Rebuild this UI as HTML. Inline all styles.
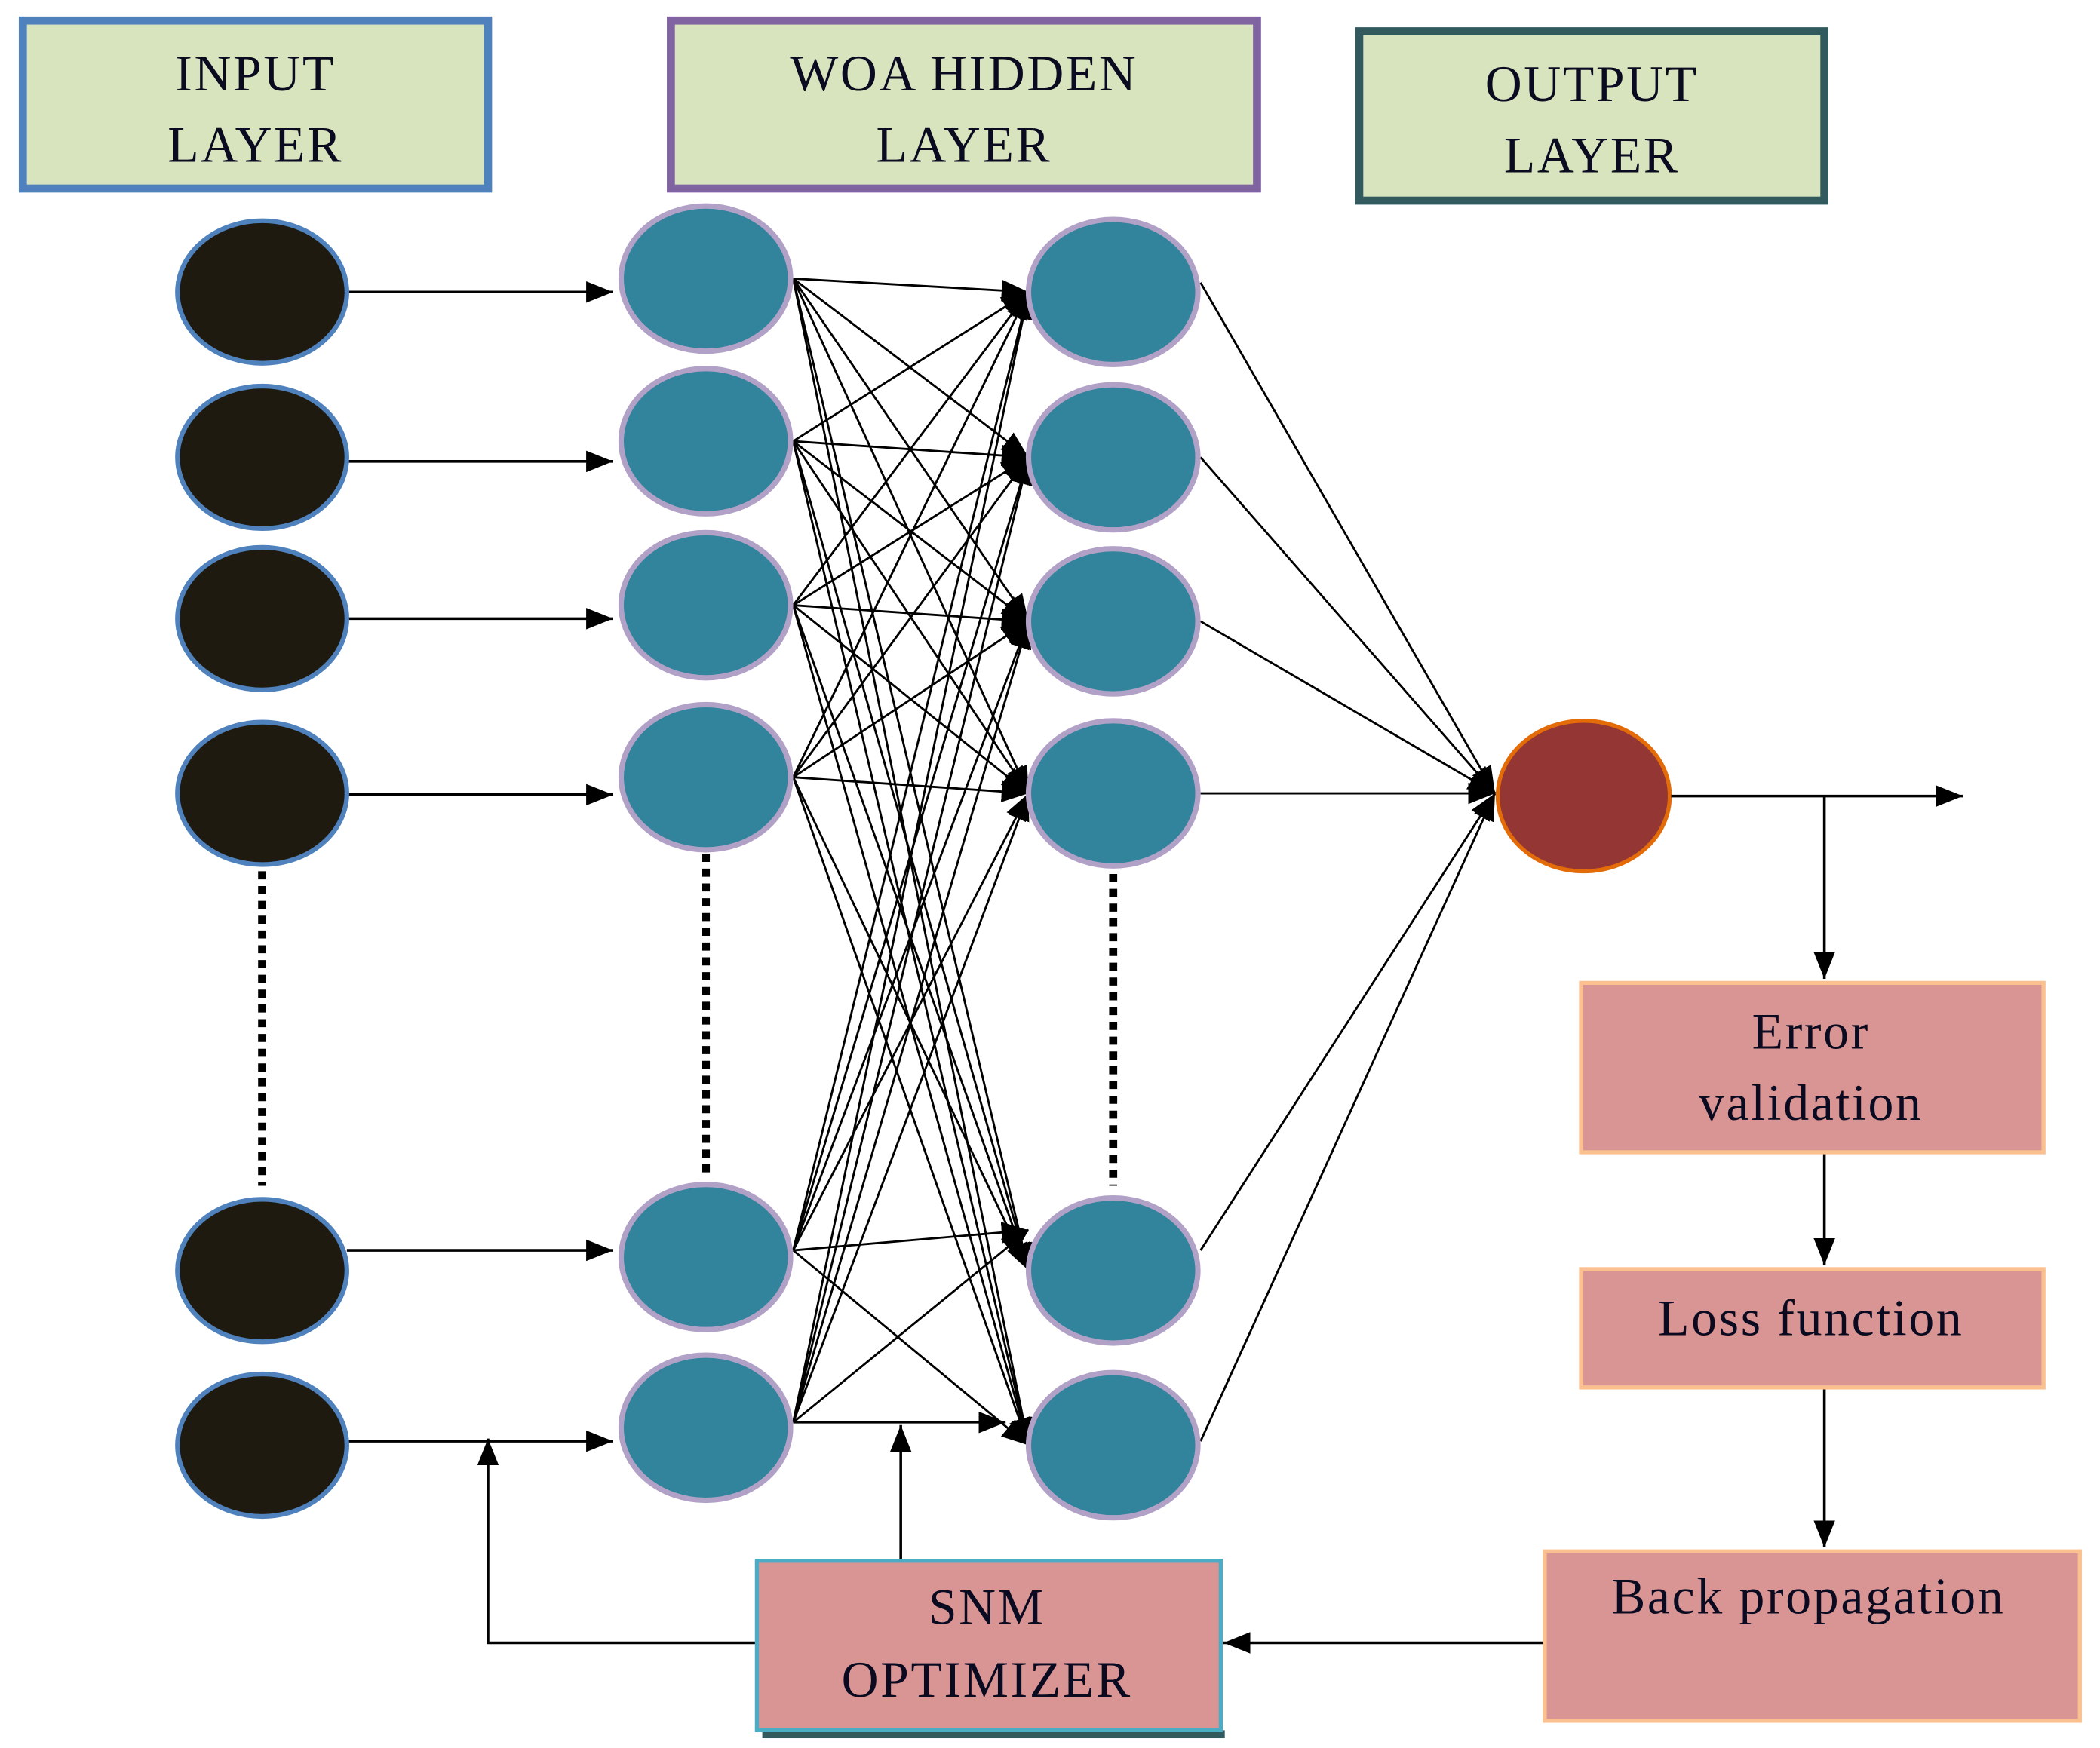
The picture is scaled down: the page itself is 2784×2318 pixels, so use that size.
<!DOCTYPE html>
<html><head><meta charset="utf-8"><style>
html,body{margin:0;padding:0;background:#fff}
svg{display:block}
text{font-family:"Liberation Serif",serif;fill:#0a0a20;letter-spacing:1.5px}
</style></head><body>
<svg width="2784" height="2318" viewBox="0 0 1562 1300" xmlns="http://www.w3.org/2000/svg">
<defs>
<marker id="b" viewBox="0 0 10 10" refX="10" refY="5" markerWidth="20" markerHeight="20" markerUnits="userSpaceOnUse" orient="auto"><path d="M0,1L10,5L0,9z" fill="#000"/></marker>
</defs>
<rect x="17" y="15" width="346" height="125" fill="#d7e4bd" stroke="#4f81bd" stroke-width="6"/>
<text x="190" y="67" font-size="38" text-anchor="middle">INPUT</text>
<text x="190" y="120" font-size="38" text-anchor="middle">LAYER</text>
<rect x="499" y="15" width="436" height="125" fill="#d7e4bd" stroke="#8064a2" stroke-width="6"/>
<text x="717" y="67" font-size="38" text-anchor="middle">WOA HIDDEN</text>
<text x="717" y="120" font-size="38" text-anchor="middle">LAYER</text>
<rect x="1011" y="23" width="346" height="126" fill="#d7e4bd" stroke="#31595e" stroke-width="6"/>
<text x="1184" y="75" font-size="38" text-anchor="middle">OUTPUT</text>
<text x="1184" y="128" font-size="38" text-anchor="middle">LAYER</text>

<g stroke="#000" stroke-width="1.6" marker-end="url(#b)">
<line x1="590" y1="207" x2="765" y2="217"/><line x1="590" y1="207" x2="765" y2="340"/><line x1="590" y1="207" x2="765" y2="462"/><line x1="590" y1="207" x2="765" y2="590"/><line x1="590" y1="207" x2="765" y2="945"/><line x1="590" y1="207" x2="765" y2="1075"/>
<line x1="590" y1="328" x2="765" y2="217"/><line x1="590" y1="328" x2="765" y2="340"/><line x1="590" y1="328" x2="765" y2="462"/><line x1="590" y1="328" x2="765" y2="590"/><line x1="590" y1="328" x2="765" y2="945"/><line x1="590" y1="328" x2="765" y2="1075"/>
<line x1="590" y1="450" x2="765" y2="217"/><line x1="590" y1="450" x2="765" y2="340"/><line x1="590" y1="450" x2="765" y2="462"/><line x1="590" y1="450" x2="765" y2="590"/><line x1="590" y1="450" x2="765" y2="945"/><line x1="590" y1="450" x2="765" y2="1075"/>
<line x1="590" y1="578" x2="765" y2="217"/><line x1="590" y1="578" x2="765" y2="340"/><line x1="590" y1="578" x2="765" y2="462"/><line x1="590" y1="578" x2="765" y2="590"/><line x1="590" y1="578" x2="765" y2="945"/><line x1="590" y1="578" x2="765" y2="1075"/>
<line x1="590" y1="930" x2="765" y2="217"/><line x1="590" y1="930" x2="765" y2="340"/><line x1="590" y1="930" x2="765" y2="462"/><line x1="590" y1="930" x2="765" y2="590"/><line x1="590" y1="930" x2="765" y2="915"/><line x1="590" y1="930" x2="765" y2="1075"/>
<line x1="590" y1="1058" x2="765" y2="217"/><line x1="590" y1="1058" x2="765" y2="340"/><line x1="590" y1="1058" x2="765" y2="462"/><line x1="590" y1="1058" x2="765" y2="590"/><line x1="590" y1="1058" x2="765" y2="915"/><line x1="590" y1="1058" x2="748" y2="1058"/>
</g>
<g stroke="#000" stroke-width="1.6" marker-end="url(#b)">
<line x1="893" y1="210" x2="1112" y2="590"/><line x1="893" y1="340" x2="1112" y2="590"/><line x1="893" y1="462" x2="1112" y2="590"/><line x1="893" y1="590" x2="1112" y2="590"/><line x1="893" y1="930" x2="1112" y2="590"/><line x1="893" y1="1072" x2="1112" y2="590"/>
</g>
<g stroke="#000" stroke-width="2" marker-end="url(#b)">
<line x1="258" y1="217" x2="456" y2="217"/><line x1="258" y1="343" x2="456" y2="343"/><line x1="258" y1="460" x2="456" y2="460"/><line x1="258" y1="591" x2="456" y2="591"/><line x1="258" y1="930" x2="456" y2="930"/><line x1="258" y1="1072" x2="456" y2="1072"/>
</g>
<g stroke="#000" stroke-width="6" stroke-dasharray="6,5">
<line x1="195" y1="648" x2="195" y2="882"/><line x1="525" y1="635" x2="525" y2="872"/><line x1="828" y1="650" x2="828" y2="882"/>
</g>
<g fill="#1e1a10" stroke="#4f81bd" stroke-width="3.5">
<ellipse cx="195" cy="217" rx="63" ry="53"/><ellipse cx="195" cy="340" rx="63" ry="53"/><ellipse cx="195" cy="460" rx="63" ry="53"/><ellipse cx="195" cy="590" rx="63" ry="53"/><ellipse cx="195" cy="945" rx="63" ry="53"/><ellipse cx="195" cy="1075" rx="63" ry="53"/>
</g>
<g fill="#31849b" stroke="#b2a1c7" stroke-width="4">
<ellipse cx="525" cy="207" rx="63" ry="54"/><ellipse cx="525" cy="328" rx="63" ry="54"/><ellipse cx="525" cy="450" rx="63" ry="54"/><ellipse cx="525" cy="578" rx="63" ry="54"/><ellipse cx="525" cy="935" rx="63" ry="54"/><ellipse cx="525" cy="1062" rx="63" ry="54"/>
<ellipse cx="828" cy="217" rx="63" ry="54"/><ellipse cx="828" cy="340" rx="63" ry="54"/><ellipse cx="828" cy="462" rx="63" ry="54"/><ellipse cx="828" cy="590" rx="63" ry="54"/><ellipse cx="828" cy="945" rx="63" ry="54"/><ellipse cx="828" cy="1075" rx="63" ry="54"/>
</g>
<ellipse cx="1178" cy="592" rx="64" ry="56" fill="#943634" stroke="#e36c09" stroke-width="3"/>

<g stroke="#000" stroke-width="2" fill="none">
<line x1="1243" y1="592" x2="1460" y2="592" marker-end="url(#b)"/>
<line x1="1357" y1="592" x2="1357" y2="728" marker-end="url(#b)"/>
<line x1="1357" y1="858" x2="1357" y2="941" marker-end="url(#b)"/>
<line x1="1357" y1="1032" x2="1357" y2="1151" marker-end="url(#b)"/>
<line x1="1148" y1="1222" x2="910" y2="1222" marker-end="url(#b)"/>
<line x1="670" y1="1160" x2="670" y2="1060" marker-end="url(#b)"/>
<polyline points="562,1222 363,1222 363,1070" marker-end="url(#b)"/>
</g>

<g fill="#d99594" stroke="#fac08f" stroke-width="3">
<rect x="1176" y="731" width="344" height="126"/>
<rect x="1176" y="944" width="344" height="88"/>
<rect x="1149" y="1154" width="398" height="126"/>
</g>
<text x="1347" y="780" font-size="38" text-anchor="middle">Error</text>
<text x="1347" y="833" font-size="38" text-anchor="middle">validation</text>
<text x="1347" y="993" font-size="38" text-anchor="middle">Loss function</text>
<text x="1345" y="1200" font-size="38" text-anchor="middle">Back propagation</text>
<rect x="567" y="1287" width="344" height="6" fill="#31595e"/>
<rect x="563" y="1161" width="345" height="126" fill="#d99594" stroke="#4bacc6" stroke-width="3"/>
<text x="734" y="1208" font-size="38" text-anchor="middle">SNM</text>
<text x="734" y="1262" font-size="38" text-anchor="middle">OPTIMIZER</text>
</svg>
</body></html>
